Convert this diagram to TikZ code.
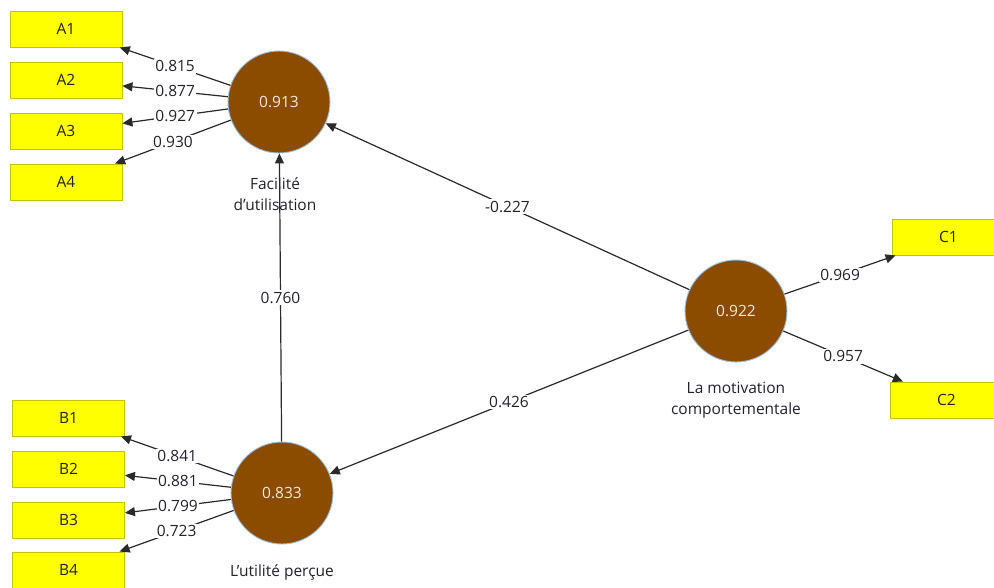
\documentclass[tikz,border=0pt]{standalone}
\usepackage{fontspec}
\setmainfont{Open Sans}
\usetikzlibrary{arrows.meta}
\definecolor{lvfill}{HTML}{8B4C00}
\definecolor{lvborder}{HTML}{9CC2E5}
\definecolor{lvtext}{HTML}{F3E8DC}
\definecolor{mvfill}{HTML}{FFFF00}
\definecolor{mvborder}{HTML}{C4C400}
\definecolor{txt}{HTML}{22222E}
\definecolor{edge}{HTML}{2A2A2A}
\begin{document}
\begin{tikzpicture}[x=1pt,y=-1pt,
  font=\fontsize{15.5}{21.5}\selectfont,
  lv/.style={circle, fill=lvfill, draw=lvborder, line width=0.9pt, minimum size=102pt, inner sep=0pt, text=lvtext},
  mv/.style={rectangle, fill=mvfill, draw=mvborder, line width=0.9pt, minimum width=112pt, minimum height=36pt, inner sep=0pt, text=txt},
  arr/.style={draw=edge, line width=1.2pt, -{Triangle[length=10pt,width=9pt]}},
  wl/.style={fill=white, inner sep=1.5pt, text=txt},
  lvlabel/.style={align=center, text=txt}]
\useasboundingbox (0,0) rectangle (994,587);
\clip (0,0) rectangle (994,587);
\fill[white] (0,0) rectangle (994,587);
% latent variables
\node[lv] (F) at (279,102) {0.913};
\node[lv] (U) at (282,493) {0.833};
\node[lv] (M) at (736,311) {0.922};
% labels of latent variables
\node[lvlabel] (Flab) at (275,194) {Facilité\\d’utilisation};
\node[lvlabel] (Ulab) at (282,572) {L’utilité perçue};
\node[lvlabel] (Mlab) at (736,400) {La motivation\\comportementale};
% indicators
\node[mv] (A1) at (66,29) {A1};
\node[mv] (A2) at (66,80) {A2};
\node[mv] (A3) at (66,131) {A3};
\node[mv] (A4) at (66,182) {A4};
\node[mv] (B1) at (68.5,418) {B1};
\node[mv] (B2) at (68.5,469) {B2};
\node[mv] (B3) at (68.5,520) {B3};
\node[mv] (B4) at (68.5,570) {B4};
\node[mv] (C1) at (948.5,237) {C1};
\node[mv] (C2) at (946.5,400) {C2};
% structural paths
\draw[arr] (M) -- node[wl] {-0.227} (F);
\draw[arr] (M) -- node[wl] {0.426} (U);
\draw[arr] (U) -- node[wl] {0.760} (F);
% loadings
\draw[arr] (F) -- node[wl] {0.815} (A1);
\draw[arr] (F) -- node[wl] {0.877} (A2);
\draw[arr] (F) -- node[wl] {0.927} (A3);
\draw[arr] (F) -- node[wl] {0.930} (A4);
\draw[arr] (U) -- node[wl] {0.841} (B1);
\draw[arr] (U) -- node[wl] {0.881} (B2);
\draw[arr] (U) -- node[wl] {0.799} (B3);
\draw[arr] (U) -- node[wl] {0.723} (B4);
\draw[arr] (M) -- node[wl] {0.969} (C1);
\draw[arr] (M) -- node[wl] {0.957} (C2);
\end{tikzpicture}
\end{document}
